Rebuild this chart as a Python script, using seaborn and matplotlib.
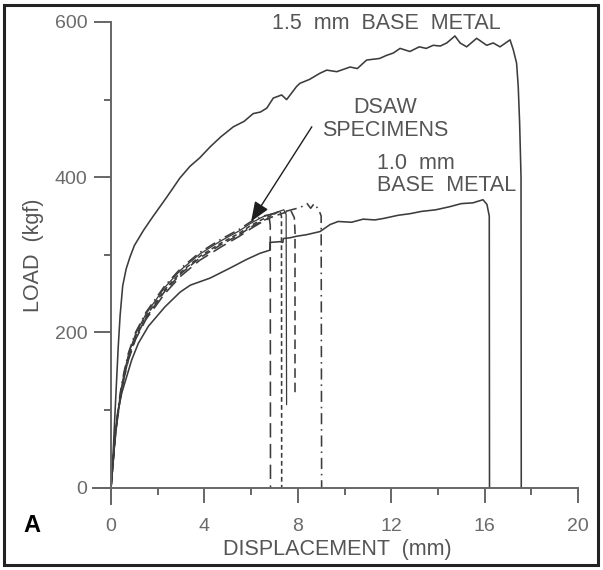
import matplotlib
matplotlib.use("Agg")
import matplotlib.pyplot as plt
import seaborn as sns
from matplotlib.patches import Rectangle

# ---------------- data ----------------
x_15 = [0, 0.1, 0.17, 0.24, 0.31, 0.39, 0.5, 0.65, 0.81, 1.0, 1.4, 1.81, 2.38, 2.95,
        3.38, 3.8, 4.24, 4.7, 5.24, 5.7, 6.09, 6.4, 6.67, 6.95, 7.31, 7.52, 7.95, 8.09,
        8.5, 8.95, 9.24, 9.67, 10.24, 10.55, 10.8, 10.95, 11.5, 11.8, 12.09, 12.38, 12.8,
        13.2, 13.5, 13.8, 14.1, 14.38, 14.73, 14.95, 15.23, 15.66, 16.09, 16.37, 16.66,
        17.09, 17.23, 17.37, 17.44, 17.5, 17.56, 17.57]
y_15 = [0, 50, 96, 139, 182, 222, 260, 282, 297, 312, 332, 350, 374, 399,
        414, 425, 439, 452, 465, 472, 482, 484, 489, 502, 506, 500, 517, 521,
        526, 534, 538, 536, 542, 540, 547, 551, 553, 557, 560, 566, 562,
        568, 566, 570, 569, 573, 582, 573, 568, 579, 570, 573, 568,
        577, 564, 547, 517, 470, 400, 0]

x_10 = [0, 0.15, 0.31, 0.46, 0.67, 0.89, 1.17, 1.6, 2.31, 2.96, 3.4, 4.24, 5.1, 5.8,
        6.38, 6.8, 6.81, 7.24, 7.36, 7.38, 7.67, 7.95, 8.38, 8.95, 9.38, 9.73, 10.3, 10.8,
        11.3, 11.69, 12.3, 12.8, 13.3, 13.9, 14.5, 15.0, 15.5, 15.93, 16.1, 16.2, 16.21]
y_10 = [0, 55, 100, 122, 143, 165, 186, 208, 233, 252, 261, 270, 283, 294,
        302, 306, 316, 317, 316, 321, 322, 324, 326, 330, 339, 343, 342, 346,
        345, 347, 351, 353, 356, 358, 362, 366, 367, 371, 365, 350, 0]

# DSAW specimens
x_s1 = [0, 0.2, 0.4, 0.55, 0.75, 1.05, 1.5, 2.3, 3.0, 3.8, 4.7, 5.5, 6.0, 6.5, 6.78, 6.82, 6.83]
y_s1 = [0, 72, 115, 140, 165, 191, 217, 250, 273, 293, 310, 324, 334, 343, 347, 338, 0]

x_s2 = [0, 0.2, 0.4, 0.55, 0.75, 1.05, 1.5, 2.3, 3.0, 3.8, 4.7, 5.5, 6.0, 6.5, 6.9, 7.2, 7.3, 7.31]
y_s2 = [0, 75, 118, 143, 169, 195, 221, 255, 278, 298, 315, 328, 338, 346, 351, 356, 350, 0]

x_s3 = [0, 0.2, 0.4, 0.55, 0.75, 1.05, 1.5, 2.3, 3.0, 3.8, 4.7, 5.5, 6.0, 6.5, 6.9, 7.4, 7.5, 7.52]
y_s3 = [0, 77, 121, 146, 172, 198, 224, 258, 281, 301, 318, 331, 341, 349, 353, 358, 352, 107]

x_s4 = [0, 0.2, 0.4, 0.55, 0.75, 1.05, 1.5, 2.3, 3.0, 3.8, 4.7, 5.5, 6.0, 6.5, 7.0, 7.5, 7.7, 7.85, 7.88, 7.88]
y_s4 = [0, 73, 116, 141, 167, 193, 219, 253, 276, 296, 313, 326, 336, 344, 350, 355, 357, 348, 330, 120]

x_s5 = [0, 0.2, 0.4, 0.55, 0.75, 1.05, 1.5, 2.3, 3.0, 3.8, 4.7, 5.5, 6.0, 6.5, 7.0, 7.6, 8.1,
        8.4, 8.55, 8.7, 8.9, 9.0, 9.02]
y_s5 = [0, 78, 123, 148, 174, 200, 226, 260, 283, 303, 320, 333, 343, 350, 353, 357, 361,
        366, 360, 366, 358, 350, 0]

x_ticks = [0, 4, 8, 12, 16, 20]
x_minor = [2, 6, 10, 14, 18]
y_ticks = [0, 200, 400, 600]
y_minor = [100, 300, 500]

# ---------------- plot ----------------
sns.set_theme(style="white")
plt.rcParams['font.family'] = ['Liberation Sans', 'DejaVu Sans']

W, H = 603, 570
fig = plt.figure(figsize=(W / 100, H / 100), dpi=100)
ax = fig.add_axes([93.5 / W, (H - 504) / H, (578 - 93.5) / W, (504 - 22) / H])
ax.set_xlim(-0.75, 20)
ax.set_ylim(-21, 600)

lc = '#3c3c3c'
lw = 1.15
sns.lineplot(x=x_15, y=y_15, estimator=None, sort=False, ax=ax, color=lc, lw=lw)
sns.lineplot(x=x_10, y=y_10, estimator=None, sort=False, ax=ax, color=lc, lw=lw)
sns.lineplot(x=x_s1, y=y_s1, estimator=None, sort=False, ax=ax, color=lc, lw=lw,
             linestyle=(0, (9, 4)))
sns.lineplot(x=x_s2, y=y_s2, estimator=None, sort=False, ax=ax, color=lc, lw=lw,
             linestyle=(0, (3, 2)))
sns.lineplot(x=x_s3, y=y_s3, estimator=None, sort=False, ax=ax, color=lc, lw=0.9)
sns.lineplot(x=x_s4, y=y_s4, estimator=None, sort=False, ax=ax, color=lc, lw=lw,
             linestyle=(0, (6, 3)))
sns.lineplot(x=x_s5, y=y_s5, estimator=None, sort=False, ax=ax, color=lc, lw=lw,
             linestyle=(0, (7, 3, 1, 3)))

# spines
sc = '#666666'
for s in ['top', 'right']:
    ax.spines[s].set_visible(False)
ax.spines['left'].set_position(('data', 0))
ax.spines['bottom'].set_position(('data', 0))
ax.spines['left'].set_bounds(-21, 600)
ax.spines['bottom'].set_bounds(-0.75, 20)
for s in ['left', 'bottom']:
    ax.spines[s].set_color(sc)
    ax.spines[s].set_linewidth(1.4)

ax.set_xticks(x_ticks)
ax.set_xticks(x_minor, minor=True)
ax.set_yticks(y_ticks)
ax.set_yticks(y_minor, minor=True)
ax.set_xticklabels([str(v) for v in x_ticks])
ax.set_yticklabels([str(v) for v in y_ticks])
ax.tick_params(axis='x', which='major', direction='out', length=11, width=1.4,
               color=sc, labelsize=14, labelcolor='#6a6a6a', pad=11, bottom=True)
ax.tick_params(axis='x', which='minor', direction='out', length=5, width=1.4,
               color=sc, bottom=True)
ax.tick_params(axis='y', which='major', direction='out', length=12, width=1.4,
               color=sc, labelsize=14, labelcolor='#6a6a6a', pad=5, left=True)
ax.tick_params(axis='y', which='minor', direction='out', length=5, width=1.4,
               color=sc, left=True)
ax.set_xlabel('')
ax.set_ylabel('')

tc = '#555555'
fs = 15.5
ax.text(11.8, 598, '1.5  mm  BASE  METAL', ha='center', va='center', fontsize=fs, color=tc)
ax.text(11.73, 490, 'DSAW', ha='center', va='center', fontsize=fs, color=tc)
ax.text(11.73, 460, 'SPECIMENS', ha='center', va='center', fontsize=fs, color=tc)
ax.text(11.39, 418, '1.0  mm', ha='left', va='center', fontsize=fs, color=tc)
ax.text(11.39, 389, 'BASE  METAL', ha='left', va='center', fontsize=fs, color=tc)

ax.annotate('', xy=(6.0, 343), xytext=(8.6, 465),
            arrowprops=dict(arrowstyle='-|>,head_length=1.0,head_width=0.4',
                            color='#1e1e1e', lw=1.0, shrinkA=0, shrinkB=0))

fig.text(34 / W, 1 - 255 / H, 'LOAD  (kgf)', rotation=90, ha='center', va='center',
         fontsize=15.5, color=tc)
fig.text(337 / W, 1 - 550 / H, 'DISPLACEMENT  (mm)', ha='center', va='center',
         fontsize=15.5, color=tc)
fig.text(32 / W, 1 - 525 / H, 'A', ha='center', va='center', fontsize=17,
         fontweight='bold', color='black')

fig.patches.append(Rectangle((4 / W, 5 / H), 594 / W, 560 / H, transform=fig.transFigure,
                             fill=False, edgecolor='#222222', linewidth=2.2))

fig.savefig('out.png', dpi=100)
